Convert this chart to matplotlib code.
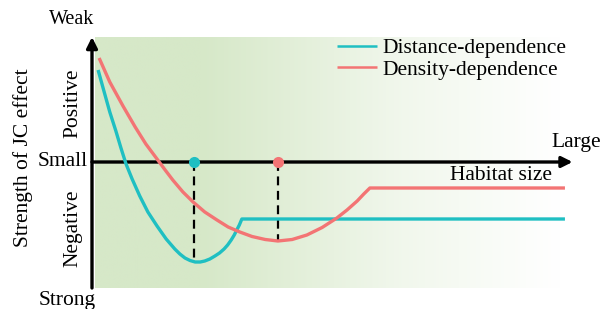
import matplotlib

matplotlib.use("Agg")

import matplotlib.pyplot as plt
import numpy as np
from matplotlib.colors import LinearSegmentedColormap

plt.rcParams["font.family"] = ["Liberation Serif", "DejaVu Serif"]

# habitat size (0-100) vs strength of JC effect (+ weak / - strong)
dist_x = [1.2, 2.4, 3.5, 4.7, 5.7, 6.7, 7.9, 9.4, 11.0, 12.8, 14.6, 16.3, 17.3, 18.3, 19.3,
          20.3, 21.3, 22.2, 23.2, 24.2, 25.1, 26.0, 26.7, 27.4, 28.0, 28.5, 29.0, 29.5, 93.1]
dist_y = [0.92, 0.70, 0.50, 0.31, 0.14, -0.02, -0.17, -0.34, -0.50, -0.64, -0.77, -0.87,
          -0.92, -0.96, -0.985, -1.00, -1.00, -0.99, -0.97, -0.94, -0.91, -0.87, -0.83,
          -0.78, -0.73, -0.68, -0.63, -0.57, -0.57]

dens_x = [1.4, 3.5, 6.1, 8.5, 10.6, 12.8, 14.4, 15.9, 17.9, 19.9, 22.2, 24.6, 26.8, 29.1,
          31.5, 34.1, 36.6, 39.4, 42.3, 45.3, 48.2, 50.2, 52.2, 53.5, 54.7, 93.1]
dens_y = [1.04, 0.80, 0.56, 0.35, 0.18, 0.03, -0.08, -0.18, -0.30, -0.40, -0.50, -0.58,
          -0.65, -0.70, -0.745, -0.775, -0.79, -0.775, -0.73, -0.655, -0.56, -0.48, -0.39,
          -0.32, -0.26, -0.26]

# habitat size of strongest effect and the strength there
opt_x = [20.1, 36.6]
opt_y = [-0.96, -0.78]

series_labels = ["Distance-dependence", "Density-dependence"]
series_colors = ["#1fbfc2", "#f37474"]

X_MAX, Y_TOP, Y_BOT = 100, 1.25, -1.26

fig = plt.figure(figsize=(6.03, 3.09), dpi=100)
ax = fig.add_axes([92 / 603, 21 / 309, 508 / 603, 251 / 309])
ax.set_xlim(0, X_MAX)
ax.set_ylim(Y_BOT, Y_TOP)
ax.axis("off")

# green -> white background
green = np.array([214, 232, 200]) / 255
cmap = LinearSegmentedColormap.from_list(
    "bg", [(0, green), (0.21, green), (0.6, green * 0.35 + 0.65), (0.92, (1, 1, 1)), (1, (1, 1, 1))]
)
grad = np.linspace(0, 1, 256).reshape(1, -1)
ax.imshow(grad, cmap=cmap, aspect="auto", extent=(0.5, X_MAX, Y_BOT, Y_TOP), zorder=0)

# axes arrows
ax.annotate("", xy=(0, Y_TOP), xytext=(0, Y_BOT),
            arrowprops=dict(arrowstyle="-|>", lw=2.4, color="black", mutation_scale=16,
                            shrinkA=0, shrinkB=0), annotation_clip=False, zorder=3)
ax.annotate("", xy=(94.6, 0), xytext=(0, 0),
            arrowprops=dict(arrowstyle="-|>", lw=2.4, color="black", mutation_scale=16,
                            shrinkA=0, shrinkB=0), annotation_clip=False, zorder=3)

for xs, ys, color, label in zip([dist_x, dens_x], [dist_y, dens_y], series_colors, series_labels):
    ax.plot(xs, ys, color=color, lw=2.4, solid_capstyle="butt", solid_joinstyle="round",
            label=label, zorder=4)

for x, y, color in zip(opt_x, opt_y, series_colors):
    ax.plot([x, x], [0, y], color="black", lw=1.6, ls=(0, (4, 2.5)), zorder=2)
    ax.plot([x], [0], "o", color=color, ms=8, mec="none", zorder=5)

fs = 15.5
leg = ax.legend(loc="upper left", bbox_to_anchor=(337 / 603, 1 - 38 / 309),
                bbox_transform=fig.transFigure, frameon=False, fontsize=fs,
                handlelength=1.85, handletextpad=0.25, labelspacing=0.08,
                borderpad=0, borderaxespad=0)
for line in leg.get_lines():
    line.set_linewidth(1.8)

fig.text(72 / 603, 1 - 19 / 309, "Weak", fontsize=14.5, ha="center", va="center")
fig.text(67 / 603, 1 - 291 / 309, "Strong", fontsize=fs, ha="center", va="top")
fig.text(88 / 603, 1 - 162 / 309, "Small", fontsize=fs, ha="right", va="center")
fig.text(576 / 603, 1 - 143 / 309, "Large", fontsize=fs, ha="center", va="center")
fig.text(501 / 603, 1 - 175 / 309, "Habitat size", fontsize=fs, ha="center", va="center")
fig.text(73 / 603, 1 - 103 / 309, "Positive", fontsize=fs, ha="center", va="center", rotation=90)
fig.text(73 / 603, 1 - 228 / 309, "Negative", fontsize=fs, ha="center", va="center", rotation=90)
fig.text(23 / 603, 1 - 158 / 309, "Strength of JC effect", fontsize=fs, ha="center",
         va="center", rotation=90)

fig.savefig("out.png", dpi=100)
